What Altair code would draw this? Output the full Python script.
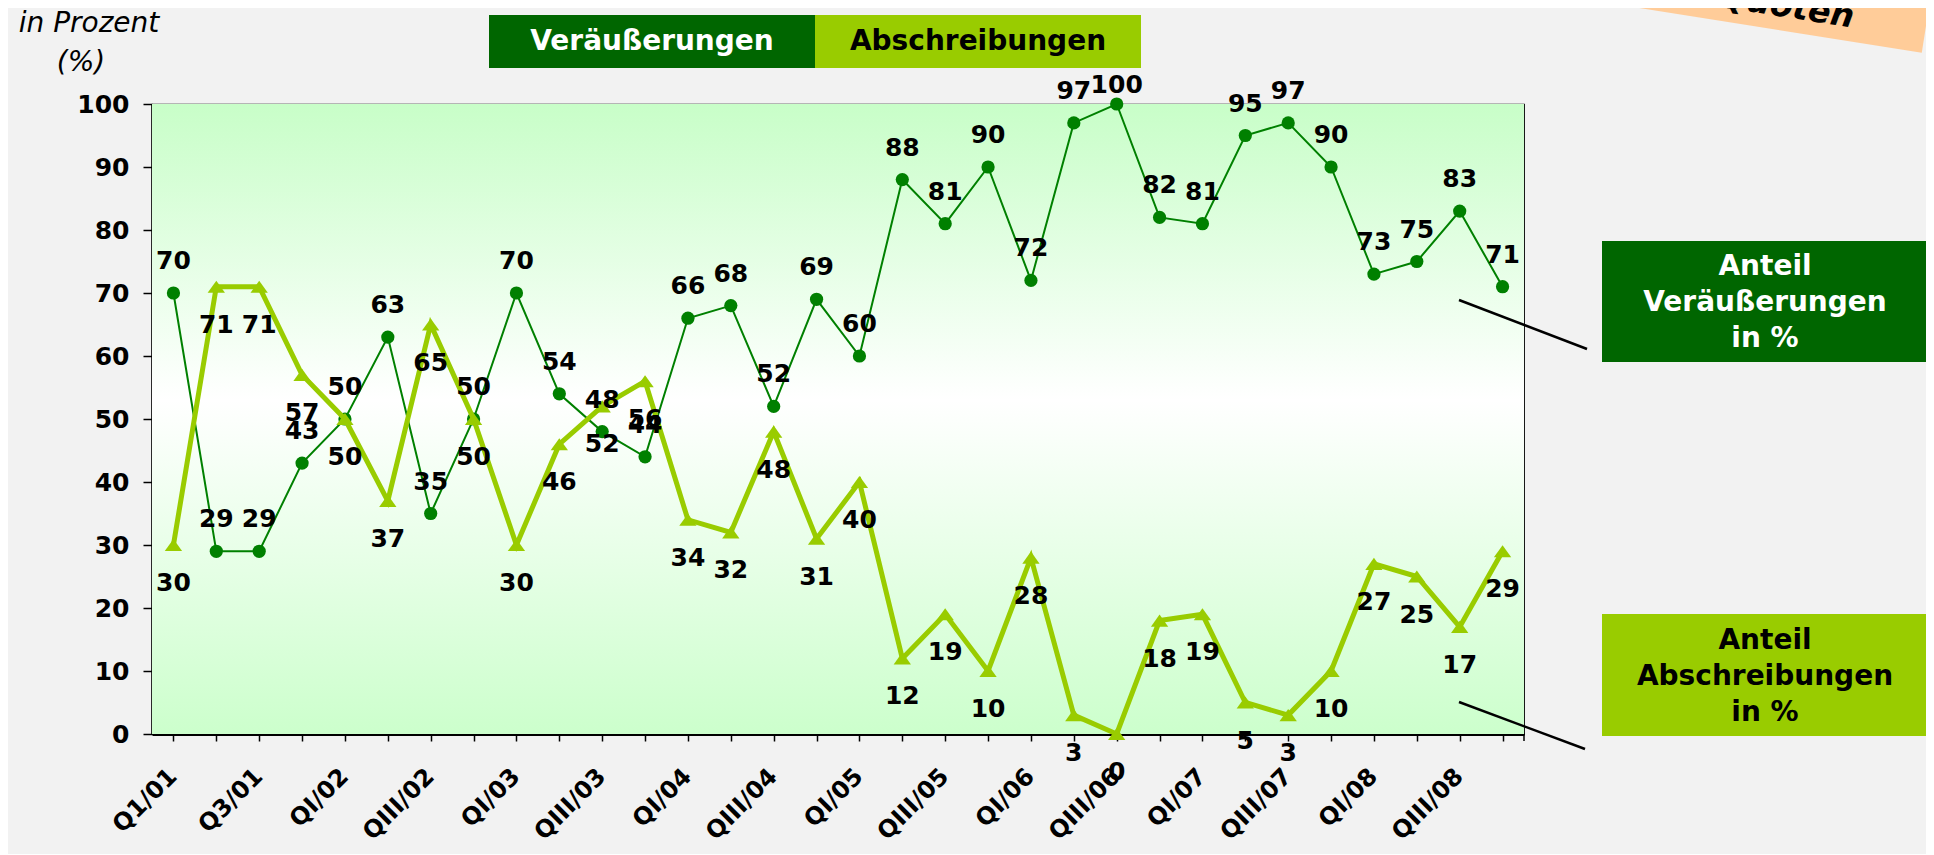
import altair as alt
import pandas as pd

# ---------------- data ----------------
quarters = ["Q1/01", "Q2/01", "Q3/01", "Q4/01",
            "QI/02", "QII/02", "QIII/02", "QIV/02",
            "QI/03", "QII/03", "QIII/03", "QIV/03",
            "QI/04", "QII/04", "QIII/04", "QIV/04",
            "QI/05", "QII/05", "QIII/05", "QIV/05",
            "QI/06", "QII/06", "QIII/06", "QIV/06",
            "QI/07", "QII/07", "QIII/07", "QIV/07",
            "QI/08", "QII/08", "QIII/08", "QIV/08"]
veraeusserungen = [70, 29, 29, 43, 50, 63, 35, 50, 70, 54, 48, 44, 66, 68, 52, 69,
                   60, 88, 81, 90, 72, 97, 100, 82, 81, 95, 97, 90, 73, 75, 83, 71]
abschreibungen = [30, 71, 71, 57, 50, 37, 65, 50, 30, 46, 52, 56, 34, 32, 48, 31,
                  40, 12, 19, 10, 28, 3, 0, 18, 19, 5, 3, 10, 27, 25, 17, 29]
y_ticks = [0, 10, 20, 30, 40, 50, 60, 70, 80, 90, 100]
legend_labels = ["Veräußerungen", "Abschreibungen"]
box_dark_lines = ["Anteil", "Veräußerungen", "in %"]
box_light_lines = ["Anteil", "Abschreibungen", "in %"]
y_title_lines = ["in Prozent", "(%)"]
badge_text = "Quoten"

# ---------------- style / layout ----------------
FONT = "DejaVu Sans"
DARK = "#008000"
LIGHT = "#99CC00"
LEG_DARK = "#006600"
BG = "#F2F2F2"
W, H = 1372, 630
PL, PT = 144, 96
TOTAL_W, TOTAL_H = 1918, 846
PR, PB = TOTAL_W - PL - W, TOTAL_H - PT - H
OX, OY = 8 + PL, 8 + PT  # page position of plot origin


def px(X):
    return X - OX


def py(Y):
    return Y - OY


df = pd.DataFrame({
    "q": quarters,
    "v": veraeusserungen,
    "a": abschreibungen,
    "lab": [q if i % 2 == 0 else "" for i, q in enumerate(quarters)],
})
one = pd.DataFrame({"k": [0]})

x_enc = alt.X("q:N", sort=None,
              scale=alt.Scale(domain=quarters, paddingInner=0, paddingOuter=0),
              axis=alt.Axis(bandPosition=0, labels=False, title=None, tickSize=7,
                            tickWidth=1.5, tickColor="black", domainColor="black",
                            domainWidth=3, grid=False))
y_scale = alt.Scale(domain=[0, 100], nice=False, zero=True)
y_enc = alt.Y("v:Q", scale=y_scale,
              axis=alt.Axis(values=y_ticks, title=None, tickSize=9, labelPadding=14,
                            labelFontSize=25, labelFontWeight="bold", labelFont=FONT,
                            labelColor="black", domainColor="black", domainWidth=2.5,
                            tickColor="black", tickWidth=1.5, grid=False))

gradient = alt.Gradient(
    gradient="linear",
    stops=[alt.GradientStop(color="#C8FEC8", offset=0),
           alt.GradientStop(color="#FFFFFF", offset=0.47),
           alt.GradientStop(color="#CCFFCC", offset=1)],
    x1=0, x2=0, y1=0, y2=1)

bg = alt.Chart(one).mark_rect(color=gradient).encode(
    x=alt.value(0), x2=alt.value(W), y=alt.value(0), y2=alt.value(H))

dark_line = alt.Chart(df).mark_line(
    color=DARK, strokeWidth=2,
    point=alt.OverlayMarkDef(filled=True, size=175, color=DARK, opacity=1)
).encode(x=x_enc, y=y_enc)

TRI = "M0,-0.7L1,0.7L-1,0.7Z"
light_line = alt.Chart(df).mark_line(
    color=LIGHT, strokeWidth=5,
    point=alt.OverlayMarkDef(shape=TRI, filled=True, size=300, color=LIGHT, opacity=1)
).encode(x=x_enc, y=alt.Y("a:Q", scale=y_scale))

lab_kw = dict(fontSize=25, fontWeight="bold", font=FONT, color="black")
dark_labels = alt.Chart(df).transform_calculate(vy="min(datum.v, 97.9)").mark_text(
    dy=-32, **lab_kw).encode(x=x_enc, y=alt.Y("vy:Q", scale=y_scale), text="v:Q")
light_labels = alt.Chart(df).mark_text(dy=38, **lab_kw).encode(
    x=x_enc, y=alt.Y("a:Q", scale=y_scale), text="a:Q")

x_labels = alt.Chart(df).mark_text(
    angle=315, align="right", baseline="middle",
    fontSize=24, fontWeight="bold", font=FONT, color="black"
).encode(x=x_enc, y=alt.value(H + 39), text="lab:N")

last_tick = alt.Chart(one).mark_rule(color="black", strokeWidth=1.5).encode(
    x=alt.value(W), y=alt.value(H), y2=alt.value(H + 7))


def rect(X1, Y1, X2, Y2, color):
    return alt.Chart(one).mark_rect(color=color).encode(
        x=alt.value(px(X1)), x2=alt.value(px(X2)),
        y=alt.value(py(Y1)), y2=alt.value(py(Y2)))


def text(t, X, Y, **kw):
    return alt.Chart(one).mark_text(text=t, font=FONT, **kw).encode(
        x=alt.value(px(X)), y=alt.value(py(Y)))


def rule(X1, Y1, X2, Y2):
    return alt.Chart(one).mark_rule(color="black", strokeWidth=2.5).encode(
        x=alt.value(px(X1)), x2=alt.value(px(X2)),
        y=alt.value(py(Y1)), y2=alt.value(py(Y2)))


legend = [
    rect(489, 15, 815, 68, LEG_DARK),
    rect(815, 15, 1141, 68, LIGHT),
    text(legend_labels[0], 652, 42, fontSize=28, fontWeight="bold", color="white",
         align="center", baseline="middle"),
    text(legend_labels[1], 978, 42, fontSize=28, fontWeight="bold", color="black",
         align="center", baseline="middle"),
]

annotations = [
    rule(1459, 300, 1587, 349),
    rule(1459, 702, 1585, 749),
    rect(1602, 241, 1930, 362, LEG_DARK),
    rect(1602, 614, 1930, 736, LIGHT),
    text(box_dark_lines, 1765, 267, fontSize=28, fontWeight="bold", color="white",
         align="center", baseline="middle", lineHeight=36),
    text(box_light_lines, 1765, 641, fontSize=28, fontWeight="bold", color="black",
         align="center", baseline="middle", lineHeight=36),
]

badge = [
    alt.Chart(one).mark_point(shape="M-1,-0.4L1,-0.4L1,0.4L-1,0.4Z", filled=True,
                              color="#FFCC99", opacity=1, size=90000, angle=9).encode(
        x=alt.value(px(1783)), y=alt.value(py(-30))),
    text(badge_text, 1785, 17, fontSize=33, fontWeight="bold", fontStyle="italic",
         color="black", align="center", baseline="alphabetic", angle=9),
]

ytitle = [
    text(y_title_lines[0], 89, 24, fontSize=28, fontStyle="italic", color="black",
         align="center", baseline="middle"),
    text(y_title_lines[1], 81, 63, fontSize=28, fontStyle="italic", color="black",
         align="center", baseline="middle"),
]

chart = alt.layer(
    bg, dark_line, light_line, dark_labels, light_labels, x_labels, last_tick,
    *legend, *annotations, *badge, *ytitle
).properties(
    width=W, height=H,
    padding={"left": PL, "top": PT, "right": PR, "bottom": PB},
    autosize=alt.AutoSizeParams(type="none"),
).configure(background=BG).configure_view(stroke="black", strokeWidth=1.2)

chart.save("out.html", embed_options={"renderer": "svg", "actions": False})
